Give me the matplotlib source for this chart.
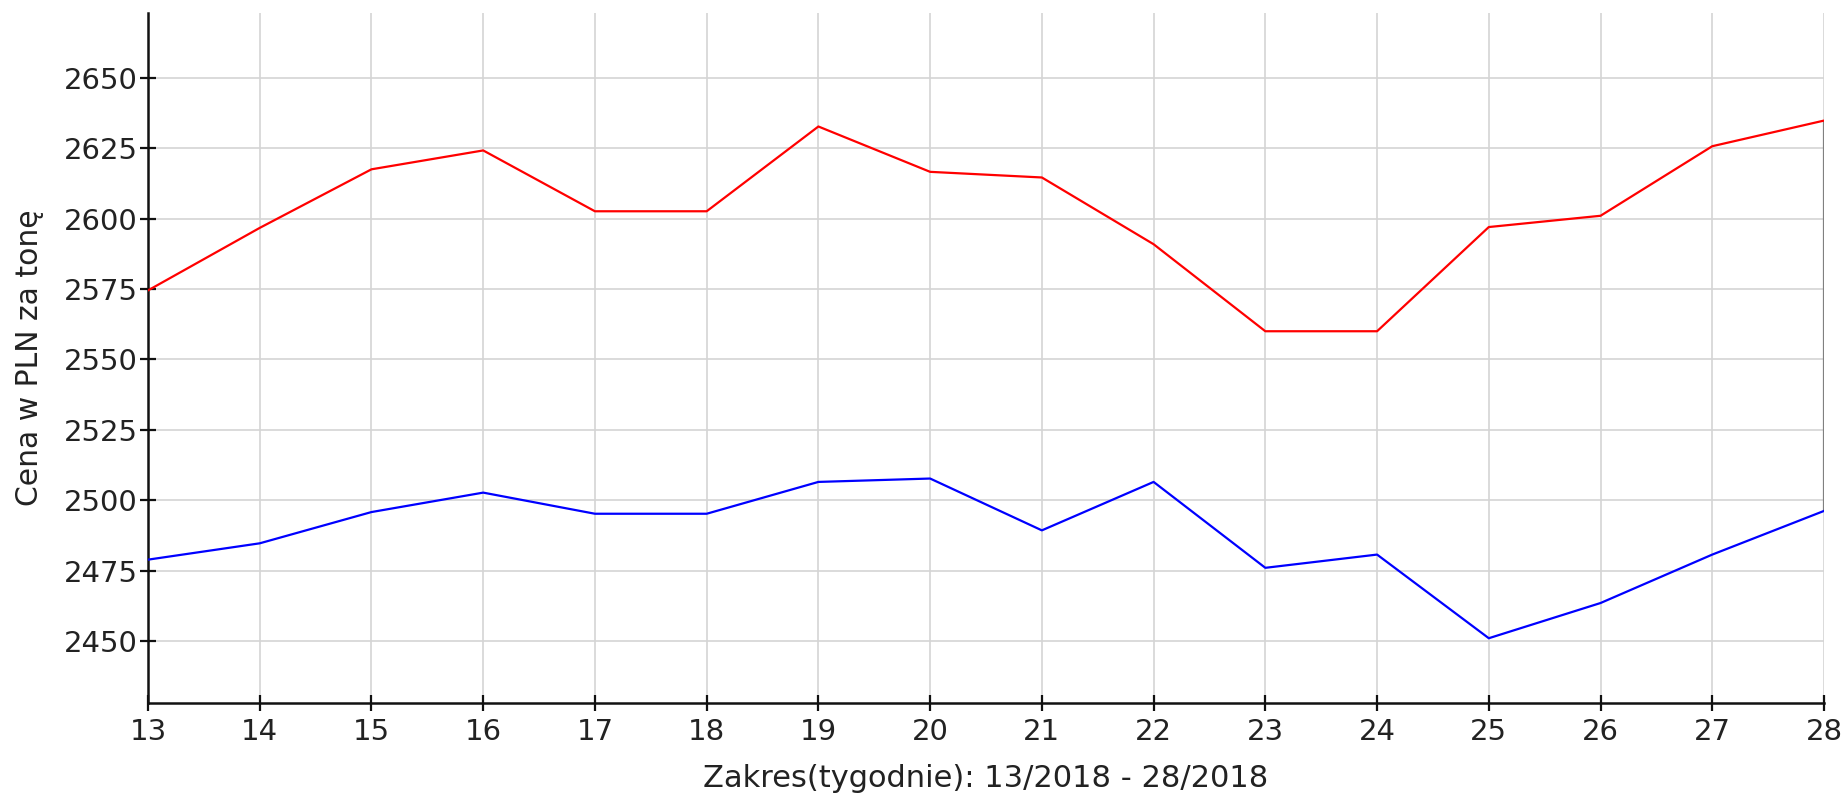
import matplotlib
matplotlib.use("Agg")
import matplotlib.pyplot as plt

weeks = list(range(13, 29))
red_series = [2574.5, 2596.7, 2617.5, 2624.2, 2602.6, 2602.6, 2632.7, 2616.6,
              2614.6, 2590.9, 2560.0, 2560.0, 2597.0, 2601.0, 2625.7, 2634.8]
blue_series = [2478.9, 2484.7, 2495.8, 2502.7, 2495.2, 2495.2, 2506.5, 2507.7,
               2489.3, 2506.5, 2476.0, 2480.7, 2451.0, 2463.5, 2480.7, 2496.2]
y_ticks = [2450, 2475, 2500, 2525, 2550, 2575, 2600, 2625, 2650]
x_label = "Zakres(tygodnie): 13/2018 - 28/2018"
y_label = "Cena w PLN za tonę"

plt.rcParams['font.family'] = ['DejaVu Sans']
fig = plt.figure(figsize=(18.43, 7.95), dpi=100)
ax = fig.add_axes([148/1843, 1-703/795, (1824-148)/1843, (703-13)/795])

ax.plot(weeks, red_series, color='#ff0000', lw=1.6, zorder=3)
ax.plot(weeks, blue_series, color='#0000ff', lw=1.6, zorder=3)
ax.vlines(weeks[-1], blue_series[-1], red_series[-1], color='#808080', lw=1.6, zorder=2)

ax.set_xlim(13, 28)
ax.set_ylim(2428, 2673)
ax.set_xticks(weeks)
ax.set_yticks(y_ticks)
ax.grid(True, color='#d4d4d4', lw=1.2)
ax.set_axisbelow(True)

for s in ['top', 'right']:
    ax.spines[s].set_visible(False)
for s in ['left', 'bottom']:
    ax.spines[s].set_color('#111111')
    ax.spines[s].set_linewidth(1.8)

ax.tick_params(axis='both', direction='inout', length=11, width=1.6,
               colors='#111111', labelsize=21, labelcolor='#222222')
ax.tick_params(axis='x', pad=5)
ax.tick_params(axis='y', pad=2)

ax.set_xlabel(x_label, fontsize=22, color='#222222')
ax.set_ylabel(y_label, fontsize=21.5, color='#222222')
ax.xaxis.set_label_coords(0.5, -0.088)
ax.yaxis.set_label_coords(-0.062, 0.5)

fig.savefig("out.png", dpi=100)
